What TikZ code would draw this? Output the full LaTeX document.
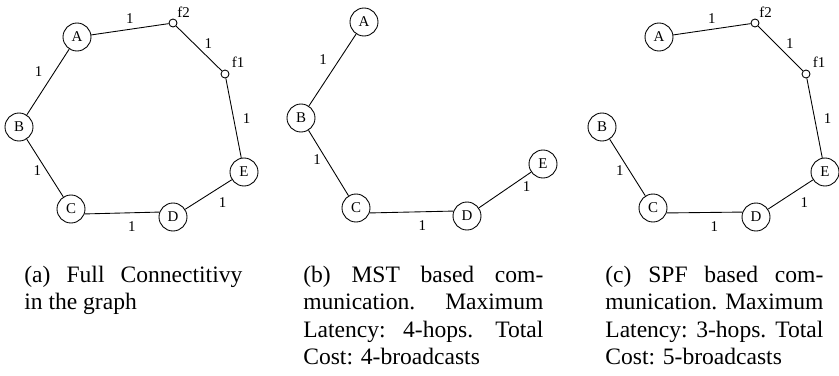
\documentclass[tikz,border=0pt]{standalone}
\usepackage{fontspec}
\setmainfont{Liberation Serif}
\usepackage{tikz}
\usetikzlibrary{positioning}

\begin{document}
\begin{tikzpicture}[
        vertex/.style={circle, draw, line width=0.5pt, minimum size=0.56cm, inner sep=0pt, font=\fontsize{8.5pt}{10pt}\selectfont},
        relay/.style={circle, draw, line width=0.5pt, minimum size=0.16cm, inner sep=0pt},
        tag/.style={inner sep=1pt, font=\fontsize{8.5pt}{10pt}\selectfont},
        cost/.style={inner sep=3pt, font=\fontsize{8.5pt}{10pt}\selectfont},
        line/.style={draw, line width=0.5pt},
        caption/.style={anchor=base west, inner sep=0pt, align=justify, font=\fontsize{13.4pt}{15.65pt}\selectfont}]

    \useasboundingbox (0,0) rectangle (16.78,-7.5);

    % Full graph
    \node [vertex] (gA) at (1.54,-0.74) {A};
    \node [vertex] (gB) at (0.38,-2.54) {B};
    \node [vertex] (gC) at (1.42,-4.18) {C};
    \node [vertex] (gD) at (3.46,-4.34) {D};
    \node [vertex] (gE) at (4.88,-3.44) {E};
    \node [relay, label={[tag]60:f2}] (gf2) at (3.46,-0.46) {};
    \node [relay, label={[tag, label distance=1pt]40:f1}] (gf1) at (4.50,-1.48) {};

    \path [line] (gA) -- node [cost, above] {1} (gf2);
    \path [line] (gf2) -- node [cost, right, yshift=3pt] {1} (gf1);
    \path [line] (gf1) -- node [cost, right=2pt] {1} (gE);
    \path [line] (gA) -- node [cost, above left] {1} (gB);
    \path [line] (gB) -- node [cost, pos=0.55, left] {1} (gC);
    \path [line] (gC.-20) -- node [cost, pos=0.63, below=2pt] {1} (gD.160);
    \path [line] (gD) -- node [cost, pos=0.6, below right] {1} (gE);

    % MST
    \node [vertex] (mA) at (7.28,-0.44) {A};
    \node [vertex] (mB) at (6.02,-2.36) {B};
    \node [vertex] (mC) at (7.12,-4.16) {C};
    \node [vertex] (mD) at (9.34,-4.32) {D};
    \node [vertex] (mE) at (10.86,-3.28) {E};

    \path [line] (mA) -- node [cost, above left] {1} (mB);
    \path [line] (mB) -- node [cost, pos=0.45, left] {1} (mC);
    \path [line] (mC.-20) -- node [cost, pos=0.63, below=2pt] {1} (mD.160);
    \path [line] (mD) -- node [cost, pos=0.8, below right, inner sep=1pt] {1} (mE);

    % SPF
    \node [vertex] (sA) at (13.18,-0.74) {A};
    \node [vertex] (sB) at (12.04,-2.54) {B};
    \node [vertex] (sC) at (13.06,-4.16) {C};
    \node [vertex] (sD) at (15.12,-4.34) {D};
    \node [vertex] (sE) at (16.50,-3.44) {E};
    \node [relay, label={[tag]60:f2}] (sf2) at (15.10,-0.46) {};
    \node [relay, label={[tag, label distance=1pt]40:f1}] (sf1) at (16.12,-1.48) {};

    \path [line] (sA) -- node [cost, above] {1} (sf2);
    \path [line] (sf2) -- node [cost, right, yshift=3pt] {1} (sf1);
    \path [line] (sf1) -- node [cost, right=2pt] {1} (sE);
    \path [line] (sB) -- node [cost, pos=0.55, left] {1} (sC);
    \path [line] (sC.-20) -- node [cost, pos=0.63, below=2pt] {1} (sD.160);
    \path [line] (sD) -- node [cost, pos=0.6, below right] {1} (sE);

    % Captions
    \node [caption, text width=4.36cm] (capa) at (0.48,-5.64)
        {(a) Full Connectitivy\linebreak in the graph};
    \node [caption, text width=4.8cm] (capb) at (6.06,-5.64)
        {(b) MST based com-\linebreak munication. Maximum\linebreak Latency: 4-hops. Total\linebreak Cost: 4-broadcasts};
    \node [caption, text width=4.36cm] (capc) at (12.10,-5.64)
        {(c) SPF based com-\linebreak munication. Maximum\linebreak Latency: 3-hops. Total\linebreak Cost: 5-broadcasts};
\end{tikzpicture}
\end{document}
